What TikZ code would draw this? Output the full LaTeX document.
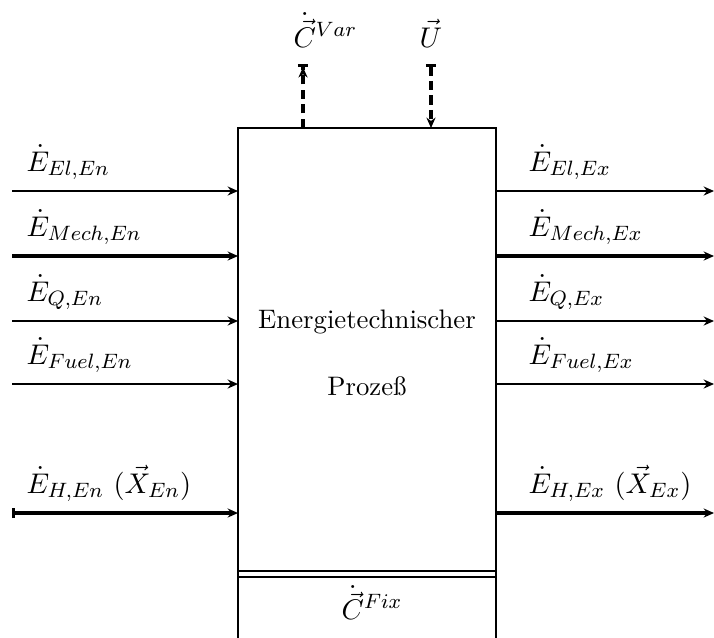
\documentclass[tikz,border=0pt]{standalone}
\usetikzlibrary{arrows.meta}
\begin{document}
\begin{tikzpicture}[x=0.385pt, y=-0.385pt,
    flow/.style={-{Stealth[length=4pt,width=3.5pt]}, line width=0.8pt},
    thick flow/.style={flow, line width=1.2pt},
    ctrl/.style={line width=1.2pt, dash pattern=on 3.6pt off 2pt},
    lbl/.style={anchor=base west, inner sep=0pt, font=\fontsize{10.8pt}{13pt}\selectfont}]
    \useasboundingbox (0,0) rectangle (714,637);
    \clip (0,0) rectangle (714,637);

    % process box
    \draw[line width=1pt] (238,700) -- (238,128) -- (496,128) -- (496,700);
    \draw[line width=1pt] (238,571) -- (496,571);
    \draw[line width=1pt] (238,577) -- (496,577);
    \node[align=center, inner sep=0pt, font=\fontsize{10.3pt}{12pt}\selectfont] (proc) at (367,353)
        {Energietechnischer\\[14pt] Proze\ss};
    \node[inner sep=0pt, font=\fontsize{10.8pt}{13pt}\selectfont] (fix) at (372,607)
        {$\smash{\dot{\vec{C}}}\vphantom{C}^{Fix}$};

    % control and cost flows
    \coordinate (varB) at (303,128);
    \coordinate (varT) at (303,64);
    \coordinate (uT) at (431,64);
    \coordinate (uB) at (431,128);
    \node[anchor=base west, inner sep=0pt, font=\fontsize{10.8pt}{13pt}\selectfont] (var) at (293,47)
        {$\smash{\dot{\vec{C}}}\vphantom{C}^{Var}$};
    \node[anchor=base, inner sep=0pt, font=\fontsize{10.8pt}{13pt}\selectfont] (u) at (431,47) {$\vec{U}$};
    \draw[ctrl, -{Stealth[length=4pt,width=3.5pt] Bar[width=4pt]}] (varB) -- (varT);
    \draw[ctrl, {Bar[width=4pt]}-{Stealth[length=4pt,width=3.5pt]}] (uT) -- (uB);

    % energy flows in and out
    \foreach \y/\nm/\sub/\st in {191/el/El/flow, 256/mech/Mech/thick flow,
        321/q/Q/flow, 384/fuel/Fuel/flow} {
        \coordinate (\nm InA) at (12,\y);
        \coordinate (\nm InB) at (238,\y);
        \coordinate (\nm OutA) at (496,\y);
        \coordinate (\nm OutB) at (714,\y);
        \draw[\st] (\nm InA) -- (\nm InB);
        \draw[\st] (\nm OutA) -- (\nm OutB);
        \node[lbl] (\nm In) at (26,\y-20) {$\dot{E}_{\sub,En}$};
        \node[lbl] (\nm Out) at (528,\y-20) {$\dot{E}_{\sub,Ex}$};
    }
    \coordinate (hInA) at (12,513);
    \coordinate (hInB) at (238,513);
    \coordinate (hOutA) at (496,513);
    \coordinate (hOutB) at (714,513);
    \draw[thick flow, {Bar[width=4pt]}-{Stealth[length=4pt,width=3.5pt]}] (hInA) -- (hInB);
    \draw[thick flow] (hOutA) -- (hOutB);
    \node[lbl] (hIn) at (26,493) {$\dot{E}_{H,En}\ (\vec{X}_{En})$};
    \node[lbl] (hOut) at (528,493) {$\dot{E}_{H,Ex}\ (\vec{X}_{Ex})$};
\end{tikzpicture}
\end{document}
